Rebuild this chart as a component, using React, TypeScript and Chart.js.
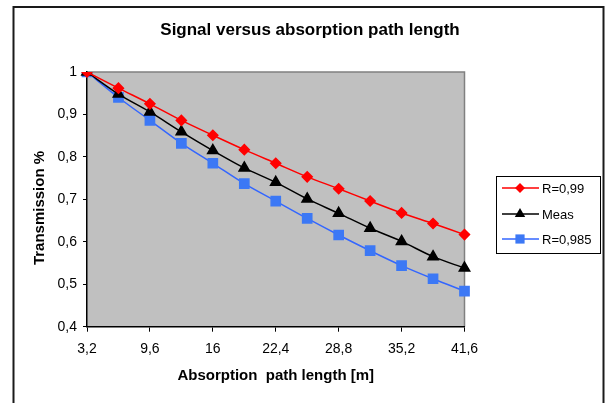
import React, { useEffect, useRef } from 'react';
import { Chart, registerables } from 'chart.js';

Chart.register(...registerables);

const pathLengths = ['3,2', '6,4', '9,6', '12,8', '16', '19,2', '22,4', '25,6', '28,8', '32', '35,2', '38,4', '41,6'];
const seriesR099 = [1, 0.962, 0.925, 0.886, 0.851, 0.817, 0.785, 0.753, 0.725, 0.696, 0.668, 0.643, 0.617];
const seriesMeas = [1, 0.948, 0.906, 0.859, 0.815, 0.774, 0.740, 0.701, 0.667, 0.632, 0.601, 0.565, 0.538];
const seriesR0985 = [1, 0.940, 0.886, 0.832, 0.785, 0.737, 0.696, 0.655, 0.616, 0.579, 0.544, 0.513, 0.484];
const seriesNames = ['R=0,99', 'Meas', 'R=0,985'];
const chartTitle = 'Signal versus absorption path length';
const xTitle = 'Absorption  path length [m]';
const yTitle = 'Transmission %';

const FONT = "Arial, 'Liberation Sans', sans-serif";
const RED = '#FF0000';
const BLACK = '#000000';
const BLUE = '#3366FF';
const BLUE_MARK = '#3C78F5';

function drawMarker(ctx: CanvasRenderingContext2D, style: string, r: number, x: number, y: number) {
  ctx.beginPath();
  if (style === 'rectRot') {
    ctx.moveTo(x, y - r);
    ctx.lineTo(x + r, y);
    ctx.lineTo(x, y + r);
    ctx.lineTo(x - r, y);
  } else if (style === 'triangle') {
    const s = r * Math.sqrt(3) / 2;
    ctx.moveTo(x, y - r);
    ctx.lineTo(x + s, y + r / 2);
    ctx.lineTo(x - s, y + r / 2);
  } else {
    const h = r * Math.SQRT1_2;
    ctx.rect(x - h, y - h, 2 * h, 2 * h);
  }
  ctx.closePath();
  ctx.fill();
}

const decorPlugin = {
  id: 'decor',
  beforeDraw(chart: any) {
    const { ctx, chartArea: a } = chart;
    ctx.save();
    ctx.fillStyle = '#C0C0C0';
    ctx.fillRect(a.left, a.top, a.right - a.left, a.bottom - a.top);
    ctx.strokeStyle = '#808080';
    ctx.lineWidth = 1.5;
    ctx.beginPath();
    ctx.moveTo(a.left, a.top);
    ctx.lineTo(a.right, a.top);
    ctx.lineTo(a.right, a.bottom);
    ctx.stroke();
    ctx.strokeStyle = '#1a1a1a';
    ctx.lineWidth = 2;
    ctx.strokeRect(13.5, 7, 590, 420);
    ctx.restore();
  },
  afterDraw(chart: any) {
    const { ctx } = chart;
    ctx.save();
    ctx.fillStyle = '#000';
    ctx.font = `bold 17px ${FONT}`;
    ctx.textAlign = 'center';
    ctx.textBaseline = 'middle';
    ctx.fillText(chartTitle, 310, 30);
    ctx.save();
    ctx.translate(40, 208);
    ctx.rotate(-Math.PI / 2);
    ctx.font = `bold 15px ${FONT}`;
    ctx.fillText(yTitle, 0, 0);
    ctx.restore();
    const lx = 496.5, ly = 176.5, lw = 104, lh = 77;
    ctx.strokeStyle = '#000';
    ctx.lineWidth = 1;
    ctx.strokeRect(lx, ly, lw, lh);
    const rows = [188, 214, 239];
    chart.data.datasets.forEach((ds: any, i: number) => {
      const y = rows[i];
      ctx.strokeStyle = ds.borderColor;
      ctx.lineWidth = 1.5;
      ctx.beginPath();
      ctx.moveTo(502, y);
      ctx.lineTo(539, y);
      ctx.stroke();
      ctx.fillStyle = ds.pointBackgroundColor;
      drawMarker(ctx, ds.pointStyle, ds.pointRadius, 520, y);
      ctx.fillStyle = '#000';
      ctx.font = `13px ${FONT}`;
      ctx.textAlign = 'left';
      ctx.fillText(ds.label, 542, y + 1);
    });
    ctx.restore();
  },
};

export default function App() {
  const ref = useRef<HTMLCanvasElement | null>(null);
  useEffect(() => {
    if (!ref.current) return;
    const chart = new Chart(ref.current, {
      type: 'line',
      data: {
        labels: pathLengths,
        datasets: [
          {
            label: seriesNames[0],
            data: seriesR099,
            borderColor: RED,
            backgroundColor: RED,
            pointBackgroundColor: RED,
            pointBorderColor: RED,
            pointStyle: 'rectRot',
            pointRadius: 5,
            borderWidth: 1.5,
            tension: 0.3,
          },
          {
            label: seriesNames[1],
            data: seriesMeas,
            borderColor: BLACK,
            backgroundColor: BLACK,
            pointBackgroundColor: BLACK,
            pointBorderColor: BLACK,
            pointStyle: 'triangle',
            pointRadius: 6,
            borderWidth: 1.5,
            tension: 0.3,
          },
          {
            label: seriesNames[2],
            data: seriesR0985,
            borderColor: BLUE,
            backgroundColor: BLUE_MARK,
            pointBackgroundColor: BLUE_MARK,
            pointBorderColor: BLUE_MARK,
            pointStyle: 'rect',
            pointRadius: 6.5,
            borderWidth: 1.5,
            tension: 0.3,
          },
        ] as any,
      },
      options: {
        animation: false,
        responsive: false,
        maintainAspectRatio: false,
        layout: { padding: { left: 19, top: 72, right: 143.5, bottom: 16.3 } },
        plugins: {
          legend: { display: false },
          title: { display: false },
          tooltip: { enabled: false },
        },
        scales: {
          x: {
            type: 'category',
            offset: false,
            afterFit: (s: any) => { s.height = 60; },
            border: { color: '#000', width: 1.5 },
            grid: {
              drawOnChartArea: false,
              drawTicks: true,
              tickLength: 5,
              color: (c: any) => (c.index % 2 === 0 ? '#000' : 'rgba(0,0,0,0)'),
            },
            ticks: {
              autoSkip: false,
              maxRotation: 0,
              padding: 9,
              color: '#000',
              font: { family: FONT, size: 14 },
              callback: (_v: any, i: number) => (i % 2 === 0 ? pathLengths[i] : ''),
            },
            title: {
              display: true,
              text: xTitle,
              color: '#000',
              font: { family: FONT, size: 15, weight: 'bold' },
              padding: { top: 0, bottom: 2 },
            },
          },
          y: {
            min: 0.4,
            max: 1,
            afterFit: (s: any) => { s.width = 68; },
            border: { color: '#000', width: 1.5 },
            grid: { drawOnChartArea: false, drawTicks: true, tickLength: 4, color: '#000' },
            ticks: {
              stepSize: 0.1,
              padding: 6,
              color: '#000',
              font: { family: FONT, size: 14 },
              callback: (v: any) => String(Math.round(Number(v) * 10) / 10).replace('.', ','),
            },
          },
        },
      },
      plugins: [decorPlugin],
    } as any);
    return () => chart.destroy();
  }, []);
  return (
    <div style={{ position: 'fixed', left: 0, top: 0, width: 608, height: 403, background: '#fff' }}>
      <canvas ref={ref} width={608} height={403} style={{ width: 608, height: 403, display: 'block' }} />
    </div>
  );
}
